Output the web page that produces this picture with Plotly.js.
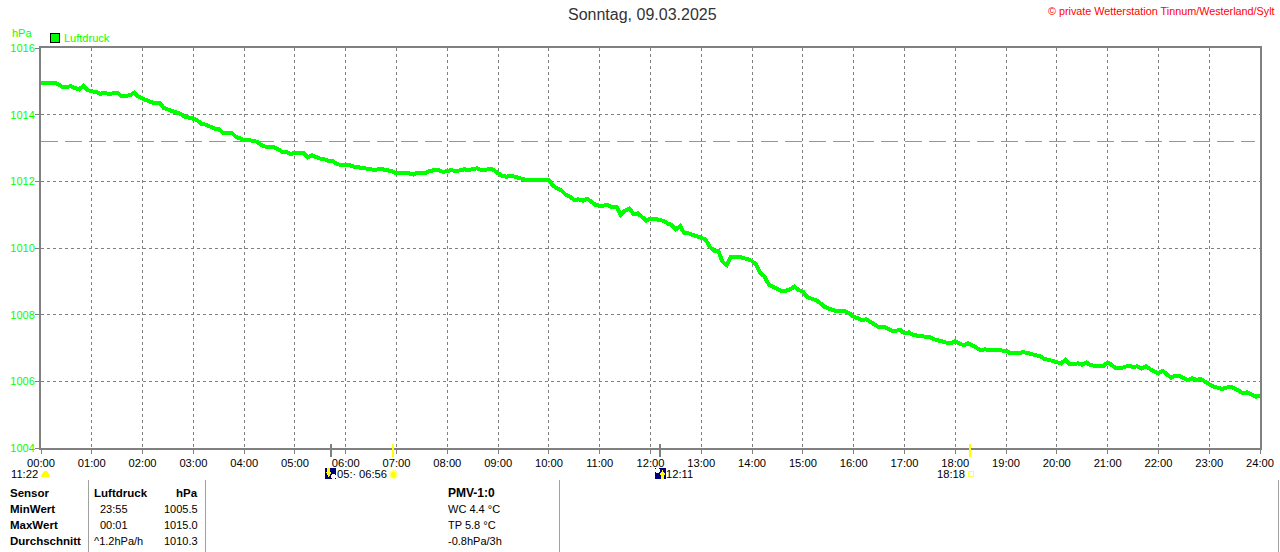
<!DOCTYPE html>
<html><head><meta charset="utf-8">
<script src="https://cdn.plot.ly/plotly-3.0.1.min.js"></script>
<style>html,body{margin:0;padding:0;background:#fff}#c{width:1280px;height:552px}
.scatterlayer path,.shapelayer path,.gridlayer path,.xtick path,.ytick path{shape-rendering:crispEdges}</style>
</head><body><div id="c"></div>
<script>
// pressure, one reading per 5 minutes, 00:00 .. 24:00
const pressure = [
1014.94,1014.95,1014.93,1014.96,1014.92,1014.84,1014.82,1014.86,1014.80,1014.76,1014.86,1014.74,
1014.70,1014.68,1014.62,1014.66,1014.62,1014.64,1014.66,1014.56,1014.58,1014.58,1014.66,1014.54,
1014.48,1014.42,1014.38,1014.34,1014.36,1014.20,1014.16,1014.10,1014.06,1014.02,1013.94,1013.92,
1013.88,1013.82,1013.72,1013.70,1013.64,1013.58,1013.56,1013.46,1013.44,1013.46,1013.34,1013.30,
1013.24,1013.24,1013.20,1013.19,1013.10,1013.04,1013.02,1013.02,1012.96,1012.89,1012.88,1012.82,
1012.86,1012.84,1012.86,1012.72,1012.78,1012.72,1012.68,1012.66,1012.61,1012.60,1012.52,1012.48,
1012.48,1012.48,1012.44,1012.42,1012.40,1012.39,1012.35,1012.34,1012.38,1012.36,1012.34,1012.30,
1012.24,1012.24,1012.26,1012.24,1012.20,1012.26,1012.24,1012.26,1012.32,1012.32,1012.34,1012.28,
1012.32,1012.34,1012.30,1012.34,1012.36,1012.34,1012.38,1012.39,1012.34,1012.34,1012.38,1012.34,
1012.24,1012.16,1012.14,1012.16,1012.14,1012.09,1012.06,1012.04,1012.04,1012.04,1012.04,1012.04,
1012.04,1011.86,1011.80,1011.72,1011.60,1011.54,1011.44,1011.46,1011.42,1011.48,1011.39,1011.29,
1011.27,1011.26,1011.28,1011.22,1011.24,1010.99,1011.12,1011.19,1011.02,1011.04,1010.92,1010.82,
1010.88,1010.88,1010.84,1010.82,1010.74,1010.69,1010.56,1010.66,1010.44,1010.44,1010.39,1010.34,
1010.32,1010.26,1010.04,1009.92,1009.92,1009.59,1009.49,1009.74,1009.74,1009.74,1009.69,1009.67,
1009.61,1009.49,1009.24,1009.14,1008.89,1008.82,1008.77,1008.71,1008.72,1008.76,1008.84,1008.74,
1008.69,1008.54,1008.48,1008.44,1008.36,1008.24,1008.19,1008.14,1008.10,1008.10,1008.10,1008.04,
1007.94,1007.89,1007.84,1007.86,1007.79,1007.69,1007.62,1007.64,1007.59,1007.52,1007.52,1007.54,
1007.44,1007.47,1007.39,1007.37,1007.34,1007.32,1007.32,1007.26,1007.22,1007.20,1007.16,1007.14,
1007.20,1007.14,1007.08,1007.14,1007.06,1007.01,1006.94,1006.96,1006.94,1006.94,1006.92,1006.94,
1006.92,1006.84,1006.84,1006.84,1006.88,1006.86,1006.82,1006.78,1006.76,1006.68,1006.64,1006.60,
1006.58,1006.54,1006.64,1006.51,1006.52,1006.54,1006.50,1006.57,1006.48,1006.46,1006.46,1006.46,
1006.57,1006.49,1006.39,1006.39,1006.44,1006.47,1006.43,1006.45,1006.39,1006.45,1006.37,1006.29,
1006.24,1006.31,1006.21,1006.11,1006.17,1006.17,1006.09,1006.04,1006.09,1006.04,1006.07,1005.99,
1005.91,1005.84,1005.81,1005.77,1005.81,1005.84,1005.79,1005.71,1005.64,1005.67,1005.59,1005.54,
1005.57];
const sampleStepMinutes = 5;
const hourTicks = [0,60,120,180,240,300,360,420,480,540,600,660,720,780,840,900,960,1020,1080,1140,1200,1260,1320,1380,1440];
const hourLabels = ["00:00","01:00","02:00","03:00","04:00","05:00","06:00","07:00","08:00","09:00","10:00","11:00","12:00","13:00","14:00","15:00","16:00","17:00","18:00","19:00","20:00","21:00","22:00","23:00","24:00"];
const pressureTicks = [1004,1006,1008,1010,1012,1014,1016];
const referenceX = [0,1434];
const referenceY = [1013.2,1013.2];
const moonMinutes = [342,731];
const sunMinutes = [416,1098];
const rowNames = ["Sensor","MinWert","MaxWert","Durchschnitt"];
const colTimes = ["Luftdruck","23:55","00:01","^1.2hPa/h"];
const colValues = ["hPa","1005.5","1015.0","1010.3"];
const pmvRows = ["PMV-1:0","WC 4.4 °C","TP 5.8 °C","-0.8hPa/3h"];

const W=1280,H=552,L=40.5,T=48,R=19.5,B=104;
const px=x=>(x-L)/(W-L-R), py=y=>1-(y-T)/(H-T-B);
const FONT='"Liberation Sans", Arial, sans-serif';
const GREY='#808080', LIME='#00ff00';

const timeX=pressure.map((_,i)=>i*sampleStepMinutes);

const ann=[];
function t(text,x,y,o={}){ann.push({text,xref:'paper',yref:'paper',x:px(x),y:py(y),xanchor:o.a||'left',yanchor:'middle',showarrow:false,borderpad:0,
  font:{family:FONT,size:o.s||11,color:o.c||'#000'}});}
t("Sonntag, 09.03.2025",642.5,15,{a:'center',s:16,c:'#333'});
t("© private Wetterstation Tinnum/Westerland/Sylt",1277,11,{a:'right',s:10.8,c:'#ff0000'});
t("hPa",10,33,{s:11,c:LIME});
t("Luftdruck",63,38,{s:11,c:LIME});
const rowsY=[493,509,525,541];
rowNames.forEach((s,i)=>t('<b>'+s+'</b>',8,rowsY[i],{s:11.5}));
colTimes.forEach((s,i)=>t(i==0?'<b>'+s+'</b>':s,i==1||i==2?99:93,rowsY[i],{s:i==0?11.5:11}));
colValues.forEach((s,i)=>t(i==0?'<b>'+s+'</b>':s,199,rowsY[i],{a:'right',s:i==0?11.5:11}));
pmvRows.forEach((s,i)=>t(i==0?'<b>'+s+'</b>':s,447,rowsY[i],{s:i==0?12:11}));
t("11:22",9,474,{s:11.2});
t("05:·",336,474,{s:11.2});
t("06:56",358,474,{s:11.2});
t("12:11",665,474,{s:11.2});
t("18:18",936,474,{s:11.2});

const sh=[];
function rect(x0,y0,x1,y1,fill,line){sh.push({type:'rect',xref:'paper',yref:'paper',x0:px(x0),x1:px(x1),y0:py(y0),y1:py(y1),fillcolor:fill,line:{color:line||fill,width:line?1:0},layer:'above'});}
function vl(x,y0,y1,c,w){sh.push({type:'line',xref:'paper',yref:'paper',x0:px(x),x1:px(x),y0:py(y0),y1:py(y1),line:{color:c,width:w},layer:'above'});}
function circ(x0,y0,x1,y1,fill,line){sh.push({type:'circle',xref:'paper',yref:'paper',x0:px(x0),x1:px(x1),y0:py(y0),y1:py(y1),fillcolor:fill,line:{color:line||fill,width:line?1:0},layer:'above'});}
function tri(a,b,c,fill){sh.push({type:'path',xref:'paper',yref:'paper',path:`M ${px(a[0])} ${py(a[1])} L ${px(b[0])} ${py(b[1])} L ${px(c[0])} ${py(c[1])} Z`,fillcolor:fill,line:{width:0},layer:'above'});}
// rise/set markers below the axis, placed by time
moonMinutes.forEach(m=>sh.push({type:'line',xref:'x',yref:'paper',x0:m,x1:m,y0:py(444),y1:py(457),line:{color:GREY,width:2},layer:'above'}));
sunMinutes.forEach(m=>sh.push({type:'line',xref:'x',yref:'paper',x0:m,x1:m,y0:py(444),y1:py(457),line:{color:'#ffff00',width:2},layer:'above'}));
// legend swatch
rect(50.5,33.5,59.5,42.5,LIME,'#000000');
// table rules
[88.5,205.5,559.5,1279.5].forEach(x=>vl(x,480,552,'#a0a0a0',1));
// half sun at 11:22
sh.push({type:'path',xref:'paper',yref:'paper',path:`M ${px(40)} ${py(477)} Q ${px(45)} ${py(464)} ${px(50)} ${py(477)} Z`,fillcolor:'#ffff00',line:{color:'#ffff00',width:0},layer:'above'});
// moon icons
rect(325,468,336,479,'#000080');
circ(331,474,336,479,'#ffffff');
rect(327,468,330,473,'#ffff00');
tri([325.5,472],[331.5,472],[328.5,477],'#ffff00');
rect(655,468,666,479,'#000080');
circ(655,468,660,473,'#ffffff');
rect(661,474,664,479,'#ffff00');
tri([659.5,475],[665.5,475],[662.5,470],'#ffff00');
// sun icons
circ(389,470,398,479,'#ffff88');
circ(391,472,396,477,'#ffff00');
rect(968.5,471.5,973.5,476.5,'#ffffff','#ffff44');

Plotly.newPlot('c',[
 {x:referenceX,y:referenceY,mode:'lines',line:{color:LIME,width:1,dash:'17px,7px'},hoverinfo:'skip'},
 {x:timeX,y:pressure,mode:'lines',line:{color:LIME,width:4,shape:'linear'},hoverinfo:'skip'}
],{
 width:W,height:H,margin:{l:L,r:R,t:T,b:B,pad:0},paper_bgcolor:'#fff',plot_bgcolor:'#fff',showlegend:false,
 font:{family:FONT,size:11.2,color:'#000'},
 xaxis:{range:[0,1440],tickmode:'array',tickvals:hourTicks,ticktext:hourLabels,tickangle:0,showgrid:true,gridcolor:GREY,griddash:'3px,3px',gridwidth:1,
   showline:true,linecolor:GREY,linewidth:2,mirror:true,ticks:'outside',ticklen:4,tickcolor:GREY,tickwidth:1,zeroline:false,tickfont:{size:11.2,color:'#000',family:FONT}},
 yaxis:{range:[1004,1016],tickmode:'array',tickvals:pressureTicks,ticktext:pressureTicks.map(String),showgrid:true,gridcolor:GREY,griddash:'3px,3px',gridwidth:1,
   showline:true,linecolor:GREY,linewidth:2,mirror:true,ticks:'outside',ticklen:4,tickcolor:GREY,tickwidth:1,zeroline:false,ticklabelstandoff:-2,tickfont:{size:11,color:LIME,family:FONT}},
 annotations:ann,shapes:sh
},{displayModeBar:false,staticPlot:true});
</script></body></html>
